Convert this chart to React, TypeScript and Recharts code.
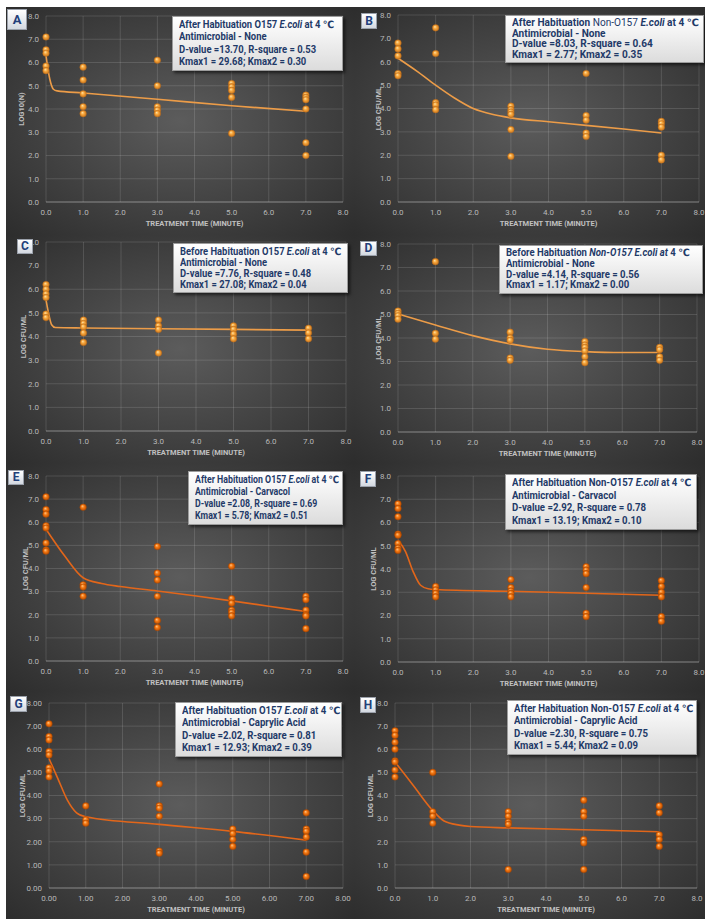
import { ComposedChart, Scatter, Line, XAxis, YAxis, CartesianGrid } from "recharts";
import type { ReactNode } from "react";

const FONT = "Roboto, 'DejaVu Sans', sans-serif";

// sampling times (minutes) shared by every panel
const times = [0, 1, 3, 5, 7];
const axisTicks = [0, 1, 2, 3, 4, 5, 6, 7, 8];

// log counts, one list of replicates per sampling time
const countsA = [
  [7.1, 6.55, 6.4, 5.85, 5.65],
  [5.8, 5.25, 4.65, 4.1, 3.8],
  [6.1, 5.0, 4.1, 3.95, 3.8],
  [5.1, 4.95, 4.8, 4.5, 2.95],
  [4.6, 4.5, 4.4, 4.0, 2.55, 2.0],
];
const countsB = [
  [6.8, 6.55, 6.25, 5.5, 5.4],
  [7.45, 6.35, 4.25, 4.15, 3.95],
  [4.1, 3.95, 3.85, 3.75, 3.1, 1.95],
  [5.5, 3.7, 3.5, 2.95, 2.8],
  [3.45, 3.35, 3.2, 2.0, 1.8],
];
const countsC = [
  [6.2, 6.0, 5.8, 5.65, 4.95, 4.8],
  [4.7, 4.55, 4.4, 4.15, 3.75],
  [4.7, 4.45, 4.3, 3.3],
  [4.45, 4.3, 4.1, 3.9],
  [4.35, 4.15, 3.9],
];
const countsD = [
  [5.15, 5.05, 4.95, 4.8],
  [7.25, 4.2, 3.95],
  [4.25, 4.0, 3.9, 3.15, 3.05],
  [3.85, 3.7, 3.6, 3.45, 3.2, 2.95],
  [3.6, 3.5, 3.2, 3.05],
];
const countsE = [
  [7.1, 6.55, 6.35, 5.85, 5.75, 5.1, 4.8, 4.75],
  [6.65, 3.3, 3.2, 2.8],
  [4.95, 3.8, 3.5, 2.8, 1.75, 1.45],
  [4.1, 2.7, 2.5, 2.2, 2.1, 1.95],
  [2.8, 2.65, 2.2, 2.0, 1.95, 1.4],
];
const countsF = [
  [6.8, 6.6, 6.25, 5.5, 5.45, 5.1, 4.9, 4.8],
  [3.25, 3.1, 2.95, 2.8],
  [3.55, 3.2, 3.05, 2.95, 2.8],
  [4.1, 3.95, 3.8, 3.2, 2.1, 1.95],
  [3.5, 3.25, 3.0, 2.8, 1.95, 1.75],
];
const countsG = [
  [7.1, 6.55, 6.4, 5.9, 5.75, 5.2, 5.05, 4.8],
  [3.55, 2.95, 2.8],
  [4.5, 3.55, 3.45, 3.1, 1.6, 1.5],
  [2.55, 2.35, 2.1, 1.8],
  [3.25, 2.55, 2.45, 2.2, 1.55, 0.5],
];
const countsH = [
  [6.8, 6.6, 6.3, 6.0, 5.5, 5.45, 5.1, 4.8],
  [5.0, 3.3, 3.1, 2.8],
  [3.3, 3.1, 2.85, 2.75, 0.8],
  [3.8, 3.3, 3.1, 2.1, 1.95, 0.8],
  [3.55, 3.25, 2.3, 2.1, 1.8],
];

// fitted inactivation curves
const fitTimeA = [0, 0.1, 0.2, 0.3, 1, 3, 5, 7];
const fitLogA = [6.3, 5.3, 4.85, 4.78, 4.69, 4.42, 4.14, 3.9];
const fitTimeB = [0, 0.5, 1, 1.5, 2, 2.5, 3, 4, 5, 6, 7];
const fitLogB = [6.15, 5.6, 5.0, 4.45, 4.0, 3.75, 3.6, 3.43, 3.28, 3.12, 2.95];
const fitTimeC = [0, 0.08, 0.15, 0.25, 1, 3, 5, 7];
const fitLogC = [5.55, 4.9, 4.5, 4.38, 4.36, 4.33, 4.3, 4.27];
const fitTimeD = [0, 1, 2, 3, 4, 5, 6, 7];
const fitLogD = [5.02, 4.55, 4.1, 3.75, 3.52, 3.42, 3.38, 3.38];
const fitTimeE = [0, 0.5, 1, 1.5, 2, 3, 4, 5, 6, 7];
const fitLogE = [5.7, 4.55, 3.6, 3.35, 3.22, 3.03, 2.82, 2.6, 2.37, 2.14];
const fitTimeF = [0, 0.2, 0.4, 0.6, 0.8, 1, 3, 5, 7];
const fitLogF = [5.25, 4.75, 3.9, 3.3, 3.15, 3.12, 3.04, 2.96, 2.87];
const fitTimeG = [0, 0.25, 0.5, 0.75, 1, 3, 5, 7];
const fitLogG = [5.6, 4.7, 3.8, 3.25, 3.08, 2.75, 2.45, 2.07];
const fitTimeH = [0, 0.5, 1, 1.3, 1.7, 2, 3, 5, 7];
const fitLogH = [5.45, 4.4, 3.35, 2.9, 2.72, 2.66, 2.6, 2.52, 2.43];

// model statistics per panel
const dValues = ["13.70", "8.03", "7.76", "4.14", "2.08", "2.92", "2.02", "2.30"];
const rSquares = ["0.53", "0.64", "0.48", "0.56", "0.69", "0.78", "0.81", "0.75"];
const kmax1s = ["29.68", "2.77", "27.08", "1.17", "5.78", "13.19", "12.93", "5.44"];
const kmax2s = ["0.30", "0.35", "0.04", "0.00", "0.51", "0.10", "0.39", "0.09"];
const treatments = ["None", "None", "None", "None", "Carvacol", "Carvacol", "Caprylic Acid", "Caprylic Acid"];

const toPoints = (counts: number[][]) =>
  counts.flatMap((reps, i) => reps.map((y) => ({ x: times[i], y })));
const toCurve = (t: number[], y: number[]) => t.map((x, i) => ({ x, y: y[i] }));

// text width via canvas, used to squeeze the note text to a Calibri-like width
const ctx = typeof document !== "undefined" ? document.createElement("canvas").getContext("2d") : null;
const textWidth = (s: string, px: number) => {
  if (!ctx) return s.length * px * 0.55;
  ctx.font = `700 ${px}px Roboto`;
  return ctx.measureText(s).width;
};

const it = (s: string) => <i>{s}</i>;

type Box = { x: number; y: number; w: number; h: number };
type PanelCfg = {
  tag: string;
  points: { x: number; y: number }[];
  curve: { x: number; y: number }[];
  hot: boolean;
  yTitle: string;
  digits: number;
  headText: string;
  headline: ReactNode;
  headW: number;
  top: number;
  plotH: number;
  axisW: number;
  right: number;
  titleX: number;
  tagBox: Box;
  note: Box;
};

const headA = "After Habituation O157 E.coli at 4 ℃";
const headB = "After Habituation Non-O157 E.coli at 4 ℃";
const headC = "Before Habituation O157 E.coli at 4 ℃";
const headD = "Before Habituation Non-O157 E.coli at 4 ℃";

const panels: PanelCfg[] = [
  {
    tag: "A", points: toPoints(countsA), curve: toCurve(fitTimeA, fitLogA), hot: false,
    yTitle: "LOG10(N)", digits: 1, headText: headA, headW: 154,
    headline: <>After Habituation O157 {it("E.coli")} at 4 ℃</>,
    top: 9, plotH: 186, axisW: 40, right: 11, titleX: 15,
    tagBox: { x: 1, y: 2, w: 20, h: 21 }, note: { x: 166, y: 9, w: 171, h: 55 },
  },
  {
    tag: "B", points: toPoints(countsB), curve: toCurve(fitTimeB, fitLogB), hot: false,
    yTitle: "LOG CFU/ML", digits: 1, headText: headB, headW: 187,
    headline: <>After Habituation <span style={{ fontWeight: 400 }}>Non-O157</span> {it("E.coli")} at 4 ℃</>,
    top: 8, plotH: 187, axisW: 44, right: 6, titleX: 24,
    tagBox: { x: 7, y: 6, w: 16, h: 16 }, note: { x: 151, y: 8, w: 199, h: 48 },
  },
  {
    tag: "C", points: toPoints(countsC), curve: toCurve(fitTimeC, fitLogC), hot: false,
    yTitle: "LOG CFU/ML", digits: 1, headText: headC, headW: 160,
    headline: <>Before Habituation O157 {it("E.coli")} at 4 ℃</>,
    top: 7, plotH: 189, axisW: 40, right: 8, titleX: 17,
    tagBox: { x: 11, y: 4, w: 16, h: 15 }, note: { x: 167, y: 8, w: 175, h: 50 },
  },
  {
    tag: "D", points: toPoints(countsD), curve: toCurve(fitTimeD, fitLogD), hot: false,
    yTitle: "LOG CFU/ML", digits: 1, headText: headD, headW: 184,
    headline: <>Before Habituation {it("Non-O157 E.coli at")} 4 ℃</>,
    top: 9, plotH: 188, axisW: 44, right: 8, titleX: 24,
    tagBox: { x: 6, y: 6, w: 17, h: 15 }, note: { x: 145, y: 10, w: 204, h: 49 },
  },
  {
    tag: "E", points: toPoints(countsE), curve: toCurve(fitTimeE, fitLogE), hot: true,
    yTitle: "LOG CFU/ML", digits: 1, headText: headA, headW: 143,
    headline: <>After Habituation O157 {it("E.coli")} at 4 ℃</>,
    top: 13, plotH: 185, axisW: 40, right: 11, titleX: 19,
    tagBox: { x: 2, y: 7, w: 16, h: 15 }, note: { x: 182, y: 8, w: 155, h: 54 },
  },
  {
    tag: "F", points: toPoints(countsF), curve: toCurve(fitTimeF, fitLogF), hot: true,
    yTitle: "LOG CFU/ML", digits: 1, headText: headB, headW: 178,
    headline: <>After Habituation Non-O157 {it("E.coli")} at 4 ℃</>,
    top: 13, plotH: 186, axisW: 44, right: 6, titleX: 19,
    tagBox: { x: 6, y: 8, w: 16, h: 16 }, note: { x: 151, y: 11, w: 192, h: 56 },
  },
  {
    tag: "G", points: toPoints(countsG), curve: toCurve(fitTimeG, fitLogG), hot: true,
    yTitle: "LOG CFU/ML", digits: 2, headText: headA, headW: 157,
    headline: <>After Habituation O157 {it("E.coli")} at 4 ℃</>,
    top: 12, plotH: 185, axisW: 43, right: 11, titleX: 16,
    tagBox: { x: 4, y: 5, w: 17, h: 16 }, note: { x: 169, y: 11, w: 167, h: 55 },
  },
  {
    tag: "H", points: toPoints(countsH), curve: toCurve(fitTimeH, fitLogH), hot: true,
    yTitle: "LOG CFU/ML", digits: 1, headText: headB, headW: 178,
    headline: <>After Habituation Non-O157 {it("E.coli")} at 4 ℃</>,
    top: 12, plotH: 185, axisW: 41, right: 8, titleX: 16,
    tagBox: { x: 6, y: 6, w: 16, h: 16 }, note: { x: 153, y: 9, w: 190, h: 55 },
  },
];

const PANEL_H = 228;
const COL_W = [348, 351];
const NOTE_PX = 10;

const Bead = (props: any) => (
  <circle cx={props.cx} cy={props.cy} r={3.3} fill={`url(#${props.grad})`} stroke={props.rim} strokeWidth={0.4} />
);

function Panel({ cfg, idx }: { cfg: PanelCfg; idx: number }) {
  const w = COL_W[idx % 2];
  const xAxisH = PANEL_H - cfg.top - cfg.plotH;
  const tickStyle = { fill: "#b8b8b8", fontSize: 8, fontFamily: FONT };
  const fmt = (v: number) => v.toFixed(cfg.digits);
  const lineColor = cfg.hot ? "#e2661a" : "#ec9c48";
  const grad = cfg.hot ? "beadHot" : "beadGold";
  const rim = cfg.hot ? "#a84300" : "#b86a18";
  const lineH = (cfg.note.h - 6) / 4;
  const squeeze = cfg.headW / textWidth(cfg.headText, NOTE_PX);
  return (
    <div
      style={{
        position: "relative",
        width: w,
        height: PANEL_H,
        background: "radial-gradient(ellipse 75% 75% at 50% 50%, #5c5c5c 0%, #454545 45%, #2a2a2a 100%)",
      }}
    >
      <ComposedChart width={w} height={PANEL_H} margin={{ top: cfg.top, right: cfg.right, bottom: 0, left: 0 }}>
        <CartesianGrid stroke="rgba(255,255,255,0.13)" />
        <XAxis
          type="number"
          dataKey="x"
          domain={[0, 8]}
          ticks={axisTicks}
          tickFormatter={fmt}
          height={xAxisH}
          tickLine={false}
          tickSize={5}
          axisLine={{ stroke: "rgba(255,255,255,0.3)" }}
          tick={tickStyle}
          label={{
            value: "TREATMENT TIME (MINUTE)",
            position: "insideBottom",
            offset: xAxisH - 24,
            style: { fill: "#c0c0c0", fontSize: 7.5, fontWeight: 700, fontFamily: FONT },
          }}
        />
        <YAxis
          type="number"
          dataKey="y"
          domain={[0, 8]}
          ticks={axisTicks}
          tickFormatter={fmt}
          width={cfg.axisW}
          tickLine={false}
          tickSize={5}
          tickMargin={2}
          axisLine={false}
          tick={tickStyle}
          label={{
            value: cfg.yTitle,
            angle: -90,
            position: "insideLeft",
            offset: cfg.titleX,
            style: { fill: "#c0c0c0", fontSize: 7.5, fontWeight: 700, fontFamily: FONT, textAnchor: "middle" },
          }}
        />
        <Line
          data={cfg.curve}
          dataKey="y"
          type="monotone"
          stroke={lineColor}
          strokeWidth={1.6}
          dot={false}
          activeDot={false}
          isAnimationActive={false}
        />
        <Scatter
          data={cfg.points}
          dataKey="y"
          isAnimationActive={false}
          shape={(p: any) => <Bead {...p} grad={grad} rim={rim} />}
        />
      </ComposedChart>

      <div
        style={{
          position: "absolute",
          left: cfg.tagBox.x,
          top: cfg.tagBox.y,
          width: cfg.tagBox.w,
          height: cfg.tagBox.h,
          background: "linear-gradient(#ffffff, #d3d8e0)",
          border: "1px solid #9aa0aa",
          boxSizing: "border-box",
          color: "#23407a",
          fontFamily: FONT,
          fontWeight: 700,
          fontSize: cfg.tag === "A" ? 13 : 12,
          lineHeight: `${cfg.tagBox.h - 2}px`,
          textAlign: "center",
        }}
      >
        {cfg.tag}
      </div>

      <div
        style={{
          position: "absolute",
          left: cfg.note.x,
          top: cfg.note.y,
          width: cfg.note.w,
          height: cfg.note.h,
          boxSizing: "border-box",
          padding: "2px 6px",
          background: "linear-gradient(#ffffff, #dcdcdc)",
          border: "1px solid #9c9c9c",
          boxShadow: "2px 2px 3px rgba(0,0,0,0.6)",
          overflow: "hidden",
        }}
      >
        <div
          style={{
            transform: `scaleX(${squeeze})`,
            transformOrigin: "left top",
            color: "#1f3a68",
            fontFamily: FONT,
            fontWeight: 700,
            fontSize: NOTE_PX,
            lineHeight: `${lineH}px`,
            whiteSpace: "nowrap",
          }}
        >
          <div>{cfg.headline}</div>
          <div>Antimicrobial - {treatments[idx]}</div>
          <div>
            D-value ={dValues[idx]}, R-square = {rSquares[idx]}
          </div>
          <div>
            Kmax1 = {kmax1s[idx]}; Kmax2 = {kmax2s[idx]}
          </div>
        </div>
      </div>
    </div>
  );
}

export default function App() {
  return (
    <div style={{ position: "absolute", left: 6, top: 7, width: 699, height: 912, overflow: "hidden", background: "#2a2a2a" }}>
      <svg width={0} height={0} style={{ position: "absolute" }}>
        <defs>
          <radialGradient id="beadGold" cx="50%" cy="50%" r="55%" fx="38%" fy="32%">
            <stop offset="0%" stopColor="#ffe2a6" />
            <stop offset="45%" stopColor="#f6a53a" />
            <stop offset="100%" stopColor="#c4701c" />
          </radialGradient>
          <radialGradient id="beadHot" cx="50%" cy="50%" r="55%" fx="38%" fy="32%">
            <stop offset="0%" stopColor="#ffc585" />
            <stop offset="45%" stopColor="#f47812" />
            <stop offset="100%" stopColor="#b44a00" />
          </radialGradient>
        </defs>
      </svg>
      <div style={{ display: "grid", gridTemplateColumns: `${COL_W[0]}px ${COL_W[1]}px` }}>
        {panels.map((p, i) => (
          <Panel key={p.tag} cfg={p} idx={i} />
        ))}
      </div>
    </div>
  );
}
